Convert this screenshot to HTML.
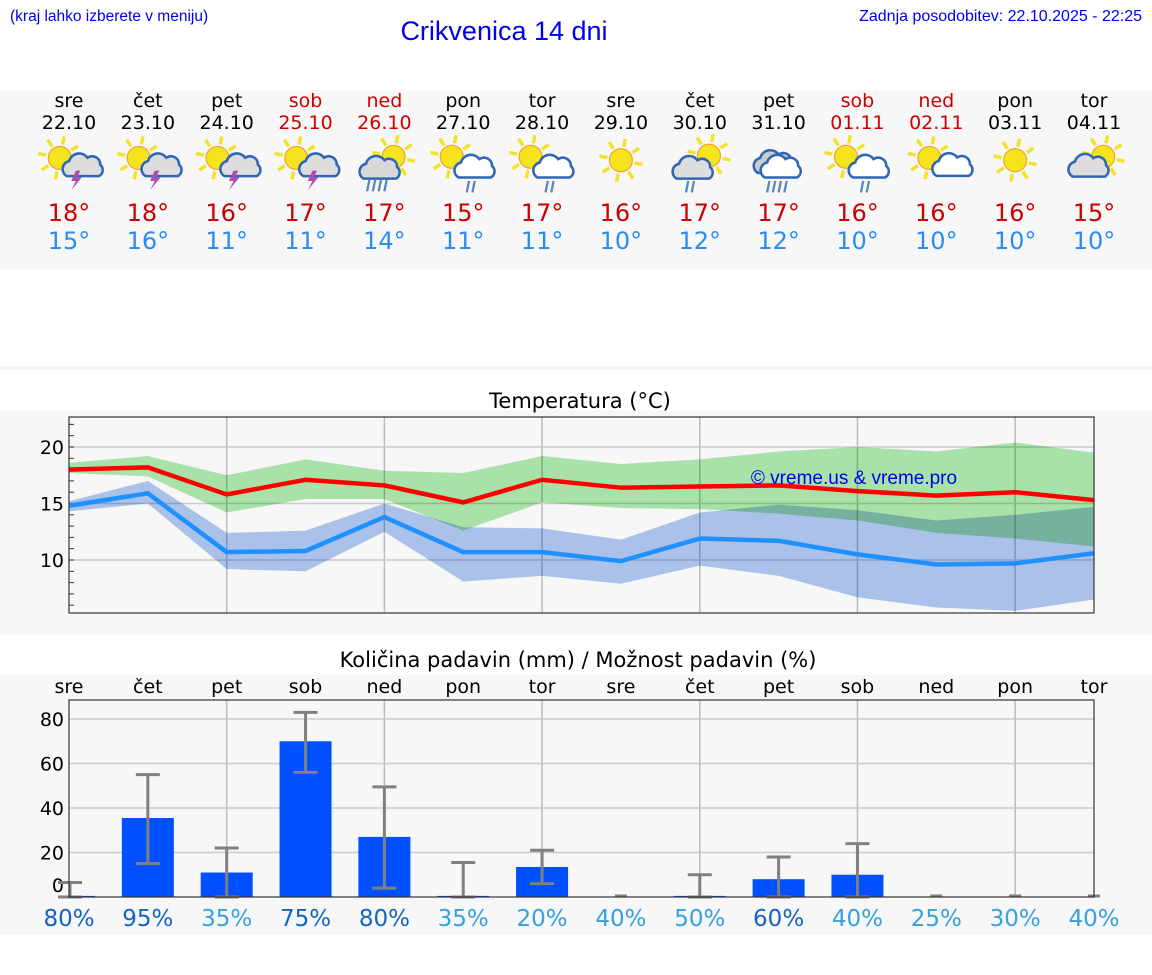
<!DOCTYPE html>
<html><head><meta charset="utf-8">
<style>
body{margin:0;width:1152px;height:975px;background:#fff;font-family:"DejaVu Sans","Liberation Sans",sans-serif;overflow:hidden;position:relative}
svg{position:absolute;left:0;top:0}
</style></head>
<body>
<svg id="s" width="1152" height="975">
<rect x="0" y="90" width="1152" height="180" fill="#f7f7f7"/>
<rect x="0" y="366" width="1152" height="4" fill="#f5f5f5"/>
<rect x="0" y="410" width="1152" height="225" fill="#f7f7f7"/>
<rect x="0" y="675" width="1152" height="260" fill="#f7f7f7"/>
<text x="10" y="21" font-size="15.5" fill="#0000ee" font-family="Liberation Sans, sans-serif">(kraj lahko izberete v meniju)</text>
<text x="504" y="40" font-size="27" fill="#0000ee" text-anchor="middle" font-family="Liberation Sans, sans-serif">Crikvenica 14 dni</text>
<text x="1142" y="21" font-size="16" fill="#0000ee" text-anchor="end" font-family="Liberation Sans, sans-serif">Zadnja posodobitev: 22.10.2025 - 22:25</text>
<text x="580" y="408" font-size="21" text-anchor="middle" fill="#000">Temperatura (°C)</text>
<text x="578" y="667" font-size="21" text-anchor="middle" fill="#000">Količina padavin (mm) / Možnost padavin (%)</text>
<g id="g"></g>
</svg>
<script>
const days=["sre","čet","pet","sob","ned","pon","tor","sre","čet","pet","sob","ned","pon","tor"];
const dates=["22.10","23.10","24.10","25.10","26.10","27.10","28.10","29.10","30.10","31.10","01.11","02.11","03.11","04.11"];
const weekend=[0,0,0,1,1,0,0,0,0,0,1,1,0,0];
const icons=["ts","ts","ts","ts","rainheavy","rainlight","rainlight","sun","cloudrain","overcast","rainlight","suncloud","sun","partly"];
const maxT=[18,18,16,17,17,15,17,16,17,17,16,16,16,15];
const minT=[15,16,11,11,14,11,11,10,12,12,10,10,10,10];
const maxLine=[18.0,18.2,15.8,17.1,16.6,15.1,17.1,16.4,16.5,16.6,16.1,15.7,16.0,15.3];
const maxHi=[18.6,19.2,17.5,18.9,17.9,17.7,19.2,18.5,18.9,19.6,20.0,19.6,20.4,19.5];
const maxLo=[17.7,17.4,14.2,15.4,15.4,12.6,15.1,14.6,14.5,14.1,13.5,12.4,11.9,11.2];
const minLine=[14.8,15.9,10.7,10.8,13.8,10.7,10.7,9.9,11.9,11.7,10.5,9.6,9.7,10.6];
const minHi=[15.2,17.0,12.4,12.6,15.0,12.9,12.8,11.8,14.2,14.9,14.4,13.5,14.0,14.7];
const minLo=[14.3,15.0,9.2,9.0,12.5,8.1,8.6,7.9,9.5,8.6,6.7,5.8,5.5,6.5];
const tempTicks=[10,15,20];
const precip=[0.5,35.5,11,70,27,0.5,13.5,0,0.5,8,10,0,0,0];
const errLo=[0,15,0,56,4,0,6,0,0,0,0,0,0,0];
const errHi=[6.5,55,22,83,49.5,15.5,21,0,10,18,24,0,0,0];
const prob=[80,95,35,75,80,35,20,40,50,60,40,25,30,40];
const precipTicks=[0,20,40,60,80];

const NS="http://www.w3.org/2000/svg";
const g=document.getElementById('g');
function el(t,a,p){const e=document.createElementNS(NS,t);for(const k in a)e.setAttribute(k,a[k]);(p||g).appendChild(e);return e;}
const X0=69,X1=1094;
const xd=i=>X0+i*(X1-X0)/13;
const yT=v=>447+(20-v)*11.3;
const yP=v=>897-v*2.225;

let IG=g;
days.forEach((d,i)=>{
  const c=weekend[i]?"#cc0000":"#000";
  let t=el('text',{x:xd(i),y:107,'font-size':19,'text-anchor':'middle',fill:c});t.textContent=d;
  
  t=el('text',{x:xd(i),y:129,'font-size':19,'text-anchor':'middle',fill:c});t.textContent=dates[i];
  
  t=el('text',{x:xd(i),y:221,'font-size':24,'text-anchor':'middle',fill:"#cc0000"});t.textContent=maxT[i]+"°";
  
  t=el('text',{x:xd(i),y:249,'font-size':24,'text-anchor':'middle',fill:"#2a8cf0"});t.textContent=minT[i]+"°";
  
  const ig=el('g',{transform:`translate(${xd(i)},166) scale(1.15)`});
  
  
  IG=ig;drawIcon(0,0,icons[i]);IG=g;
});
function sun(cx,cy,r){
  const gg=el('g',{},IG);
  for(let k=0;k<8;k++){const a=k*Math.PI/4+0.2;el('line',{x1:cx+Math.cos(a)*(r+2),y1:cy+Math.sin(a)*(r+2),x2:cx+Math.cos(a)*(r+9),y2:cy+Math.sin(a)*(r+9),stroke:'#f2e22a','stroke-width':3},gg);}
  el('circle',{cx,cy,r,fill:'#f5e31c',stroke:'#f0a030','stroke-width':1},gg);
}
function cloud(cx,cy,s,fill){
  const p=`M${cx-14*s},${cy+8*s} a7 7 0 0 1 2,-13 a9 9 0 0 1 16,-3 a7 7 0 0 1 11,6 a6 6 0 0 1 -1,10 z`;
  el('path',{d:p,fill:fill,stroke:'#2f66b5','stroke-width':2.2},IG);
}
function rain(cx,cy,n){for(let k=0;k<n;k++)el('line',{x1:cx+k*5+2,y1:cy,x2:cx+k*5,y2:cy+10,stroke:'#5a86c4','stroke-width':2},IG);}
function drawIcon(cx,cy,t){
  if(t=="ts"){sun(cx-8,cy-7,10);cloud(cx+10,cy+2,0.85,'#ddd');el('path',{d:`M${cx+6},${cy+4} l-4,9 h4 l-4,8 l9,-11 h-4 l3,-6z`,fill:'#b04cb0'},IG);}
  else if(t=="rainheavy"){sun(cx+8,cy-8,10);cloud(cx-4,cy+3,1,'#d8d8d8');rain(cx-15,cy+12,4);}
  else if(t=="rainlight"){sun(cx-10,cy-8,10);cloud(cx+10,cy+2,1,'#fff');rain(cx+3,cy+13,2);}
  else if(t=="sun"){sun(cx,cy-5,10);}
  else if(t=="cloudrain"){sun(cx+8,cy-9,10);cloud(cx-6,cy+3,1,'#ddd');rain(cx-12,cy+13,2);}
  else if(t=="overcast"){cloud(cx-4,cy-2,1,'#ccc');cloud(cx+2,cy+2,1,'#fff');rain(cx-10,cy+13,4);}
  else if(t=="suncloud"){sun(cx-6,cy-7,10);cloud(cx+10,cy+3,0.7,'#fff');}
  else if(t=="partly"){sun(cx+8,cy-8,10);cloud(cx-6,cy+2,0.9,'#ddd');}
}

function band(hi,lo,fill,name){
  let d="M"+hi.map((v,i)=>xd(i)+","+yT(v)).join("L");
  for(let i=lo.length-1;i>=0;i--)d+="L"+xd(i)+","+yT(lo[i]);
  const p=el('path',{d:d+"Z",fill:fill,style:'mix-blend-mode:multiply'});
  
}
for(let i=2;i<13;i+=2){const l=el('line',{x1:xd(i),x2:xd(i),y1:417,y2:613,stroke:'#bbb','stroke-width':1.5});
  }
tempTicks.forEach(v=>{const l=el('line',{x1:X0,x2:X1,y1:yT(v),y2:yT(v),stroke:'#ccc','stroke-width':1.5});
  
  const t=el('text',{x:64,y:yT(v)+7,'font-size':19,'text-anchor':'end'});t.textContent=v;
  });
for(let v=6;v<=22;v++){el('line',{x1:X0,x2:X0+5,y1:yT(v),y2:yT(v),stroke:'#333','stroke-width':1});}
band(maxHi,maxLo,'#aeeaae','max-temp-range');
band(minHi,minLo,'#b0c8f2','min-temp-range');
function line(vals,c,name){const p=el('polyline',{points:vals.map((v,i)=>xd(i)+","+yT(v)).join(" "),fill:'none',stroke:c,'stroke-width':4.5});
  }
line(maxLine,'#ff0000','max-temp-line');
line(minLine,'#1e90ff','min-temp-line');
let tt=el('text',{x:854,y:484,'font-size':19,'text-anchor':'middle',fill:'#0000ee',
'font-family':'Liberation Sans, sans-serif'});tt.textContent="© vreme.us & vreme.pro";

let fr=el('rect',{x:X0,y:417,width:X1-X0,height:196,fill:'none',stroke:'#333','stroke-width':1.2});


for(let i=2;i<13;i+=2){const l=el('line',{x1:xd(i),x2:xd(i),y1:700,y2:897,stroke:'#bbb','stroke-width':1.5});
  }
precipTicks.forEach(v=>{if(v>0){const l=el('line',{x1:X0,x2:X1,y1:yP(v),y2:yP(v),stroke:'#ccc','stroke-width':1.5});
  }
  const t=el('text',{x:64,y:yP(v)+(v==0?-5:7),'font-size':19,'text-anchor':'end'});t.textContent=v;
  });
days.forEach((d,i)=>{
  const t=el('text',{x:xd(i),y:693,'font-size':19,'text-anchor':'middle'});t.textContent=d;
  
  const w=52, x=Math.max(X0,xd(i)-w/2), x2=Math.min(X1,xd(i)+w/2);
  if(precip[i]>0){const b=el('rect',{x:x,y:yP(precip[i]),width:x2-x,height:897-yP(precip[i]),fill:'#0050ff'});
    }
  const ex=Math.max(X0+1,xd(i));
  const e=el('g',{stroke:'#808080','stroke-width':3});
  
  if(errHi[i]>0){
    el('line',{x1:ex,x2:ex,y1:yP(errLo[i]),y2:yP(errHi[i])},e);
    el('line',{x1:ex-12,x2:ex+12,y1:yP(errHi[i]),y2:yP(errHi[i])},e);
    el('line',{x1:ex-12,x2:ex+12,y1:yP(errLo[i]),y2:yP(errLo[i])},e);
  } else el('line',{x1:ex-6,x2:ex+6,y1:896,y2:896},e);
  const p=el('text',{x:xd(i),y:926,'font-size':23,'text-anchor':'middle',fill:prob[i]>=60?'#1464c0':'#36a0e0'});
  p.textContent=prob[i]+"%";
});
fr=el('rect',{x:X0,y:700,width:X1-X0,height:197,fill:'none',stroke:'#333','stroke-width':1.2});

</script>
</body></html>
